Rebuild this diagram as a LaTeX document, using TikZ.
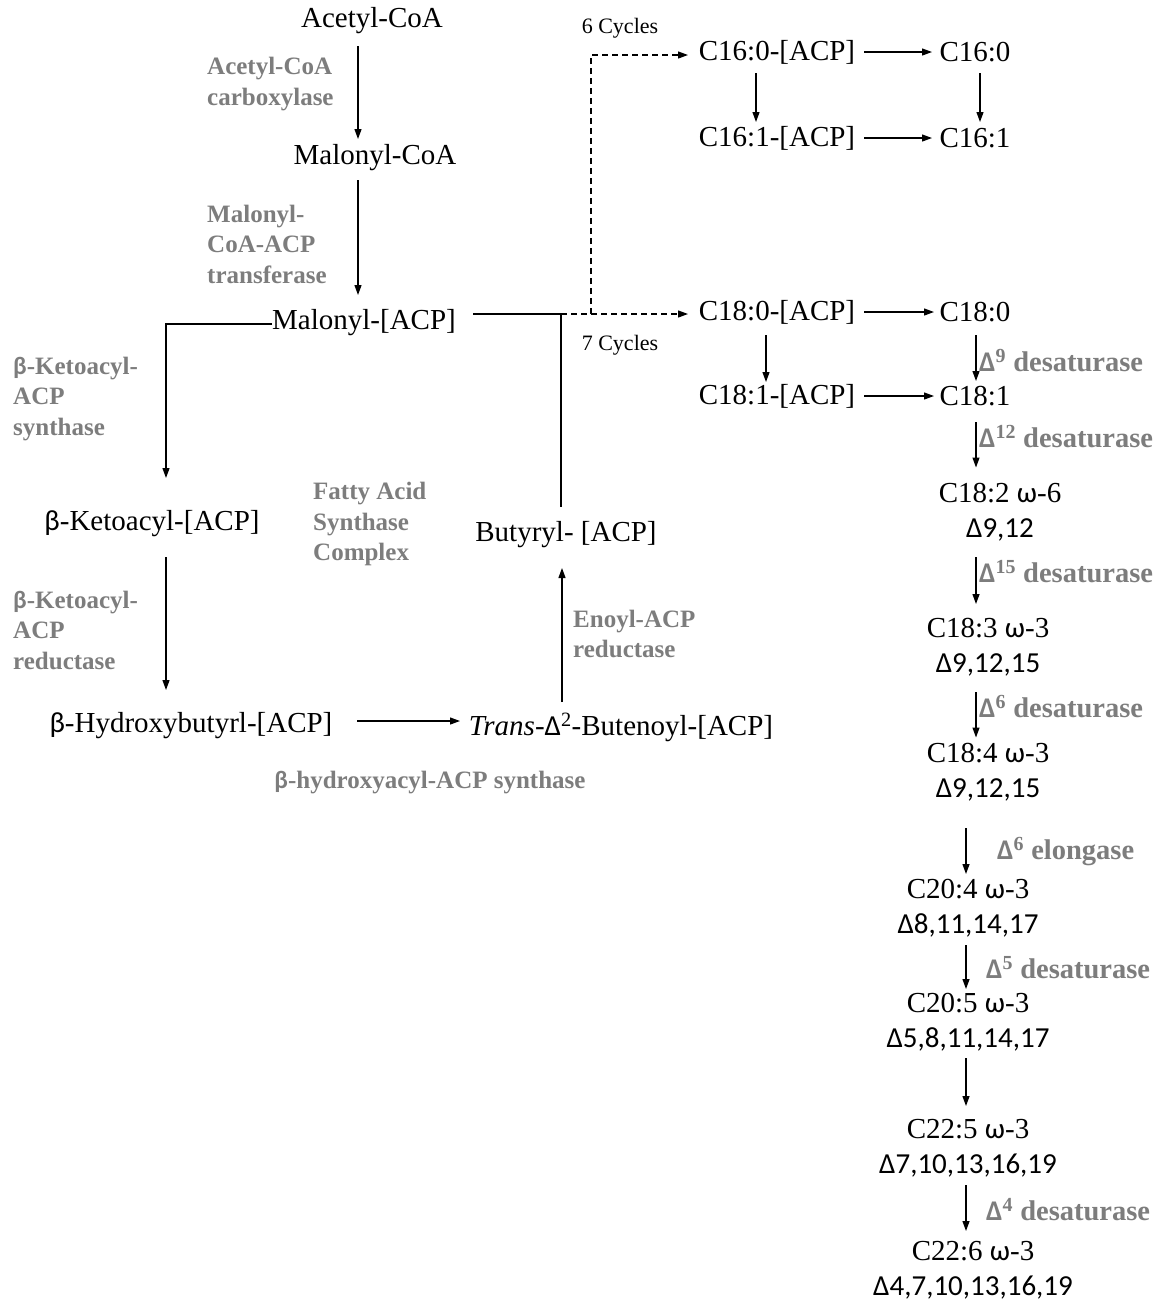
\documentclass[tikz,border=0pt]{standalone}
\usepackage{fontspec}
\setmainfont{Liberation Serif}
\newfontfamily\gk{Carlito}
\usetikzlibrary{arrows.meta,calc}
\definecolor{labgray}{RGB}{125,125,125}
\tikzset{
  main/.style={font=\fontsize{29}{35}\selectfont, inner sep=0pt, align=center},
  lab/.style={font=\fontsize{25}{30.5}\selectfont\bfseries, text=labgray, inner sep=0pt, align=left, anchor=west},
  dlab/.style={font=\fontsize{28.5}{32}\selectfont\bfseries, text=labgray, inner sep=0pt, anchor=west},
  cyc/.style={font=\fontsize{22}{26}\selectfont, inner sep=0pt},
  arr/.style={-{Triangle[length=10pt,width=7pt]}, line width=1.2pt},
  ln/.style={line width=1.2pt},
  dsh/.style={arr, dash pattern=on 6pt off 4pt}
}
\newcommand{\gd}{{\gk\bfseries Δ}}
\begin{document}
\begin{tikzpicture}[x=1pt,y=-1pt]
\useasboundingbox (0,0) rectangle (1171,1302);

% left cycle
\node[main] (acoa) at (372,21) {Acetyl-CoA};
\node[main] (mcoa) at (375,158) {Malonyl-CoA};
\node[main] (macp) at (364,323) {Malonyl-[ACP]};
\node[main] (keto) at (152,524) {{\gk β}-Ketoacyl-[ACP]};
\node[main] (hydroxy) at (191,726) {{\gk β}-Hydroxybutyrl-[ACP]};
\node[main] (trans) at (621,727) {\textit{Trans}-{\gk Δ}\textsuperscript{2}-Butenoyl-[ACP]};
\node[main] (butyryl) at (566,535) {Butyryl- [ACP]};

\node[lab] (l1) at (207,84) {Acetyl-CoA\\carboxylase};
\node[lab] (l2) at (207,244) {Malonyl-\\CoA-ACP\\transferase};
\node[lab] (l3) at (13,399) {{\gk\bfseries β}-Ketoacyl-\\ACP\\synthase};
\node[lab] (l4) at (313,524) {Fatty Acid\\Synthase\\Complex};
\node[lab] (l5) at (13,630) {{\gk\bfseries β}-Ketoacyl-\\ACP\\reductase};
\node[lab] (l6) at (573,634) {Enoyl-ACP\\reductase};
\node[lab,anchor=center] (l7) at (430,783) {{\gk\bfseries β}-hydroxyacyl-ACP synthase};

\draw[arr] ($(acoa.center)+(-14,25)$) -- ($(mcoa.center)+(-17,-19)$);
\draw[arr] ($(mcoa.center)+(-17,22)$) -- ($(macp.center)+(-6,-28)$);
\draw[arr] ($(macp.center)+(-92,1)$) -| ($(keto.center)+(14,-46)$);
\draw[arr] ($(keto.center)+(14,33)$) -- ($(hydroxy.center)+(-25,-36)$);
\draw[arr] ($(hydroxy.center)+(166,-5)$) -- ($(trans.center)+(-161,-6)$);
\draw[arr] ($(trans.center)+(-59,-25)$) -- ($(butyryl.center)+(-4,33)$);

% junction
\coordinate (jn) at (561,314);
\coordinate (split) at (591,314);
\draw[ln] ($(macp.center)+(109,-9)$) -- (jn) -- ($(butyryl.center)+(-5,-28)$);

% C16 / C18 block
\node[main] (c160acp) at (777,52) {C16:0-[ACP]};
\node[main] (c160) at (975,52) {C16:0};
\node[main] (c161acp) at (777,138) {C16:1-[ACP]};
\node[main] (c161) at (975,138) {C16:1};
\node[main] (c180acp) at (777,312) {C18:0-[ACP]};
\node[main] (c180) at (975,312) {C18:0};
\node[main] (c181acp) at (777,396) {C18:1-[ACP]};
\node[main] (c181) at (975,396) {C18:1};

\node[cyc] (cy6) at (620,28) {6 Cycles};
\node[cyc] (cy7) at (620,345) {7 Cycles};

\draw[dsh] (jn) -- ($(c180acp.center)+(-89,2)$);
\draw[dsh] (split) |- ($(c160acp.center)+(-89,3)$);

\draw[arr] ($(c160acp.center)+(87,0)$) -- ($(c160.center)+(-43,0)$);
\draw[arr] ($(c161acp.center)+(87,0)$) -- ($(c161.center)+(-43,0)$);
\draw[arr] ($(c180acp.center)+(87,0)$) -- ($(c180.center)+(-41,0)$);
\draw[arr] ($(c181acp.center)+(87,0)$) -- ($(c181.center)+(-41,0)$);
\draw[arr] ($(c160acp.center)+(-21,21)$) -- ($(c161acp.center)+(-21,-16)$);
\draw[arr] ($(c160.center)+(5,21)$) -- ($(c161.center)+(5,-16)$);
\draw[arr] ($(c180acp.center)+(-11,23)$) -- ($(c181acp.center)+(-11,-14)$);

% chain
\node[main] (c182) at (1000,512.5) {C18:2 {\gk ω}-6\\{\gk Δ9,12}};
\node[main] (c183) at (988,647) {C18:3 {\gk ω}-3\\{\gk Δ9,12,15}};
\node[main] (c184) at (988,772.5) {C18:4 {\gk ω}-3\\{\gk Δ9,12,15}};
\node[main] (c204) at (968,908) {C20:4 {\gk ω}-3\\{\gk Δ8,11,14,17}};
\node[main] (c205) at (968,1022) {C20:5 {\gk ω}-3\\{\gk Δ5,8,11,14,17}};
\node[main] (c225) at (968,1148) {C22:5 {\gk ω}-3\\{\gk Δ7,10,13,16,19}};
\node[main] (c226) at (973,1270) {C22:6 {\gk ω}-3\\{\gk Δ4,7,10,13,16,19}};

\draw[arr] ($(c180.center)+(1,23)$) -- ($(c181.center)+(1,-15)$);
\draw[arr] ($(c181.center)+(1,26)$) -- ($(c182.center)+(-24,-45)$);
\draw[arr] ($(c182.center)+(-24,44.5)$) -- ($(c183.center)+(-12,-43)$);
\draw[arr] ($(c183.center)+(-12,45)$) -- ($(c184.center)+(-12,-35)$);
\draw[arr] ($(c184.center)+(-22,55.5)$) -- ($(c204.center)+(-2,-34)$);
\draw[arr] ($(c204.center)+(-2,37)$) -- ($(c205.center)+(-2,-33)$);
\draw[arr] ($(c205.center)+(-2,36)$) -- ($(c225.center)+(-2,-42)$);
\draw[arr] ($(c225.center)+(-2,37)$) -- ($(c226.center)+(-7,-39)$);

\node[dlab] (d9) at (979,361) {\gd\textsuperscript{9} desaturase};
\node[dlab] (d12) at (979,437) {\gd\textsuperscript{12} desaturase};
\node[dlab] (d15) at (979,572) {\gd\textsuperscript{15} desaturase};
\node[dlab] (d6) at (979,707) {\gd\textsuperscript{6} desaturase};
\node[dlab] (e6) at (997,852) {\gd\textsuperscript{6} elongase};
\node[dlab] (d5) at (986,968) {\gd\textsuperscript{5} desaturase};
\node[dlab] (d4) at (986,1210) {\gd\textsuperscript{4} desaturase};
\end{tikzpicture}
\end{document}
